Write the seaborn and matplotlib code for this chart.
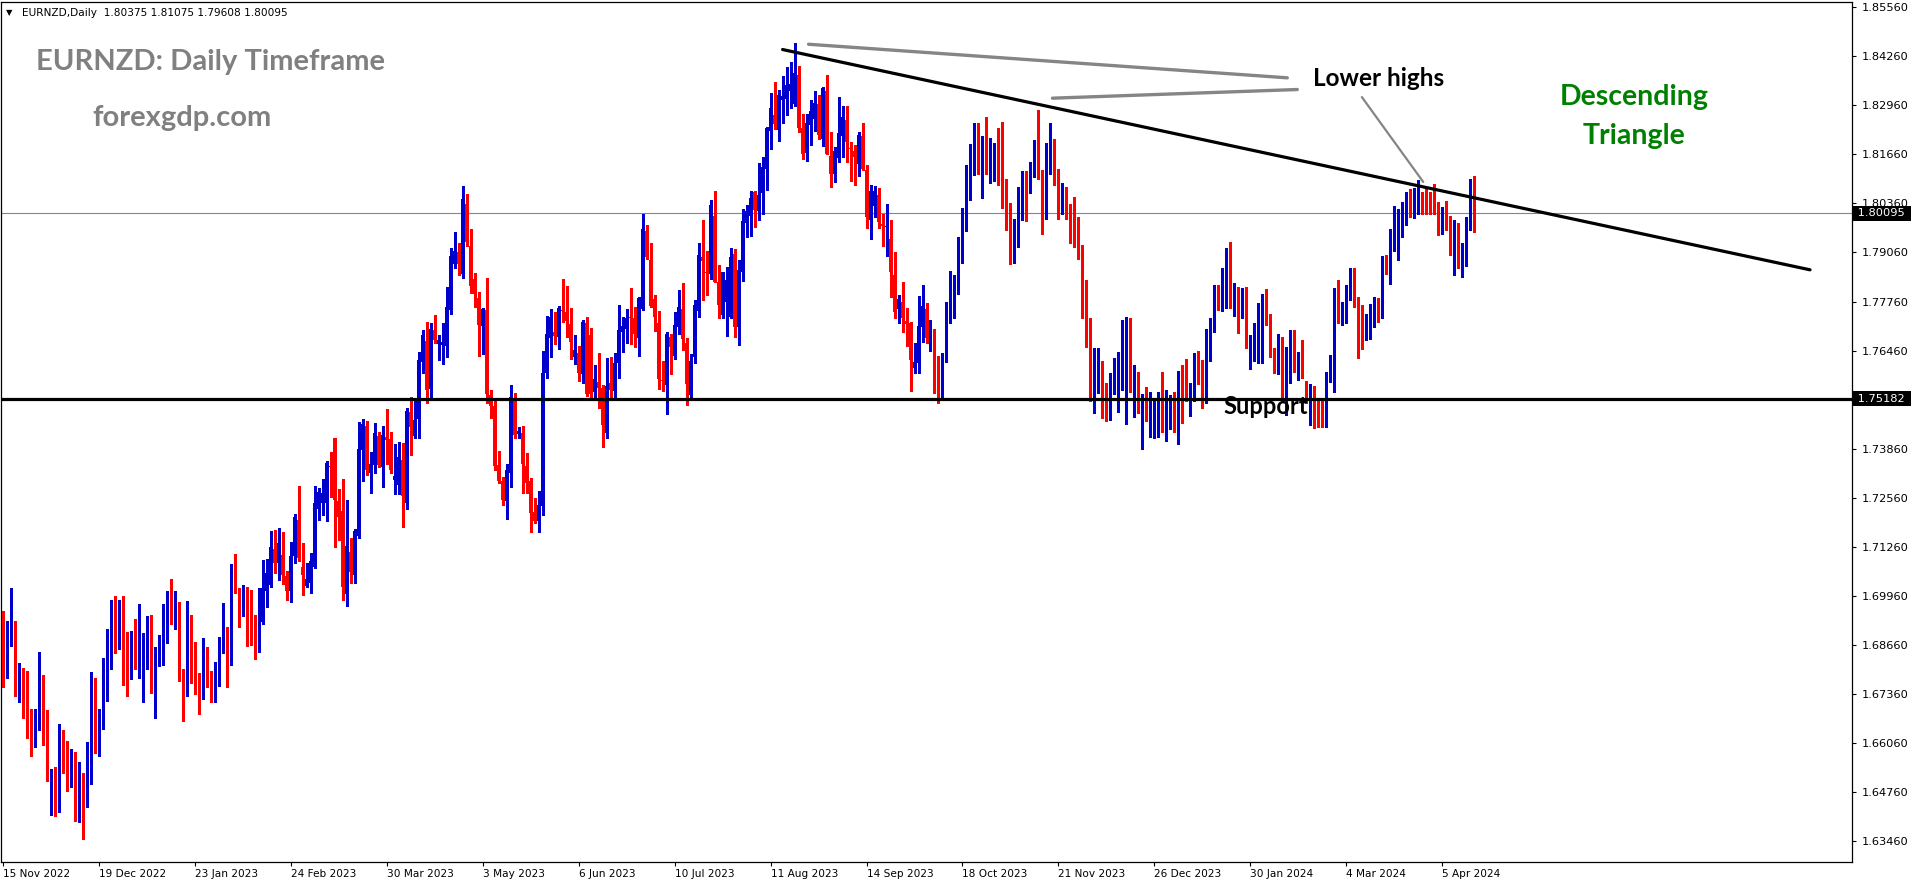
import numpy as np
import pandas as pd
import seaborn as sns
import matplotlib.pyplot as plt
from matplotlib.transforms import blended_transform_factory

# %%
# Daily EURNZD candles, 15 Nov 2022 - mid Apr 2024
opens = [
    1.6938, 1.6804, 1.6896, 1.6892, 1.6730, 1.6783, 1.6736, 1.6654, 1.6607, 1.6652,
    1.6764, 1.6654, 1.6501, 1.6524, 1.6481, 1.6590, 1.6561, 1.6527, 1.6537, 1.6427,
    1.6503, 1.6442, 1.6541, 1.6758, 1.6577, 1.6652, 1.6730, 1.6824, 1.6932, 1.6879,
    1.6945, 1.6819, 1.6783, 1.6839, 1.6870, 1.6828, 1.6835, 1.6879, 1.6784, 1.6832,
    1.6855, 1.6901, 1.6971, 1.6954, 1.6951, 1.6779, 1.6758, 1.6918, 1.6789, 1.6748,
    1.6731, 1.6836, 1.6786, 1.6733, 1.6766, 1.6861, 1.6892, 1.6843, 1.7080, 1.7009,
    1.6951, 1.6985, 1.6974, 1.6889, 1.6852, 1.6927, 1.7009, 1.7024, 1.7120, 1.7082,
    1.7104, 1.7049, 1.7009, 1.7101, 1.7197, 1.7071, 1.7022, 1.7029, 1.7071, 1.7225,
    1.7241, 1.7243, 1.7340, 1.7413, 1.7246, 1.7221, 1.7000, 1.7111, 1.7050, 1.7155,
    1.7382, 1.7447, 1.7322, 1.7343, 1.7420, 1.7338, 1.7418, 1.7411, 1.7303, 1.7290,
    1.7356, 1.7243, 1.7482, 1.7420, 1.7464, 1.7616, 1.7671, 1.7543, 1.7700, 1.7663,
    1.7661, 1.7659, 1.7753, 1.7875, 1.7906, 1.7850, 1.8034, 1.7923, 1.7835, 1.7786,
    1.7712, 1.7753, 1.7528, 1.7499, 1.7343, 1.7299, 1.7248, 1.7322, 1.7513, 1.7425,
    1.7428, 1.7340, 1.7299, 1.7219, 1.7193, 1.7235, 1.7587, 1.7680, 1.7696, 1.7681,
    1.7753, 1.7749, 1.7716, 1.7630, 1.7640, 1.7584, 1.7720, 1.7687, 1.7537, 1.7562,
    1.7548, 1.7428, 1.7559, 1.7540, 1.7612, 1.7696, 1.7703, 1.7732, 1.7731, 1.7680,
    1.7756, 1.7963, 1.7886, 1.7782, 1.7718, 1.7568, 1.7555, 1.7681, 1.7631, 1.7709,
    1.7755, 1.7667, 1.7528, 1.7628, 1.7751, 1.7893, 1.7853, 1.7849, 1.8002, 1.7827,
    1.7740, 1.7775, 1.7736, 1.7902, 1.7709, 1.7855, 1.7985, 1.8003, 1.8065, 1.8016,
    1.8064, 1.8127, 1.8228, 1.8270, 1.8230, 1.8310, 1.8312, 1.8333, 1.8299, 1.8376,
    1.8237, 1.8170, 1.8243, 1.8259, 1.8299, 1.8206, 1.8333, 1.8162, 1.8114, 1.8157,
    1.8214, 1.8257, 1.8182, 1.8175, 1.8140, 1.8214, 1.8124, 1.7992, 1.8029, 1.8058,
    1.7981, 1.7973, 1.7943, 1.7846, 1.7755, 1.7774, 1.7724, 1.7718, 1.7599, 1.7614,
    1.7709, 1.7755, 1.7664, 1.7674, 1.7539, 1.7533, 1.7634, 1.7720, 1.7736, 1.7812,
    1.7927, 1.7987, 1.8091, 1.8167, 1.8243, 1.8109, 1.8210, 1.8135, 1.8164, 1.8161,
    1.8145, 1.8071, 1.8003, 1.7895, 1.7961, 1.8018, 1.8108, 1.8091, 1.8133, 1.8198,
    1.8102, 1.7996, 1.8164, 1.8197, 1.8120, 1.8029, 1.8068, 1.8018, 1.7992, 1.7961,
    1.7910, 1.7808, 1.7677, 1.7553, 1.7537, 1.7575, 1.7526, 1.7493, 1.7570, 1.7575,
    1.7590, 1.7603, 1.7711, 1.7526, 1.7550, 1.7503, 1.7498, 1.7481, 1.7431, 1.7443,
    1.7506, 1.7464, 1.7449, 1.7486, 1.7438, 1.7552, 1.7550, 1.7511, 1.7524, 1.7621,
    1.7593, 1.7511, 1.7654, 1.7699, 1.7784, 1.7775, 1.7787, 1.7905, 1.7787, 1.7809,
    1.7736, 1.7762, 1.7637, 1.7667, 1.7643, 1.7692, 1.7751, 1.7734, 1.7632, 1.7619,
    1.7665, 1.7511, 1.7562, 1.7658, 1.7623, 1.7630, 1.7565, 1.7526, 1.7528, 1.7500,
    1.7469, 1.7443, 1.7568, 1.7566, 1.7755, 1.7720, 1.7720, 1.7791, 1.7821, 1.7758,
    1.7721, 1.7680, 1.7678, 1.7753, 1.7777, 1.7733, 1.7875, 1.7824, 1.7948, 1.7948,
    1.7952, 1.8009, 1.8043, 1.8031, 1.8014, 1.8062, 1.8069, 1.8038, 1.8033, 1.8031,
    1.7965, 1.8008, 1.7987, 1.7905, 1.7956, 1.7865, 1.7872, 1.7978, 1.80375,
]
highs = [
    1.6956, 1.6929, 1.7016, 1.6929, 1.6817, 1.6804, 1.6797, 1.6696, 1.6696, 1.6846,
    1.6786, 1.6693, 1.6537, 1.6541, 1.6656, 1.6640, 1.6611, 1.6590, 1.6583, 1.6554,
    1.6527, 1.6607, 1.6795, 1.6779, 1.6696, 1.6832, 1.6908, 1.6985, 1.6994, 1.6985,
    1.6995, 1.6901, 1.6903, 1.6934, 1.6974, 1.6898, 1.6941, 1.6945, 1.6861, 1.6892,
    1.6974, 1.7009, 1.7040, 1.7009, 1.6980, 1.6802, 1.6982, 1.6945, 1.6874, 1.6791,
    1.6883, 1.6859, 1.6797, 1.6819, 1.6886, 1.6978, 1.6914, 1.7080, 1.7107, 1.7016,
    1.7025, 1.7020, 1.7011, 1.6945, 1.7017, 1.7092, 1.7093, 1.7167, 1.7170, 1.7175,
    1.7165, 1.7062, 1.7139, 1.7212, 1.7288, 1.7137, 1.7084, 1.7108, 1.7287, 1.7281,
    1.7306, 1.7352, 1.7376, 1.7413, 1.7278, 1.7306, 1.7250, 1.7148, 1.7173, 1.7456,
    1.7465, 1.7459, 1.7376, 1.7453, 1.7431, 1.7447, 1.7491, 1.7429, 1.7398, 1.7404,
    1.7400, 1.7495, 1.7522, 1.7515, 1.7643, 1.7700, 1.7721, 1.7718, 1.7740, 1.7687,
    1.7718, 1.7815, 1.7919, 1.7961, 1.7930, 1.8082, 1.8061, 1.7968, 1.7852, 1.7802,
    1.7758, 1.7839, 1.7541, 1.7517, 1.7380, 1.7312, 1.7345, 1.7555, 1.7534, 1.7444,
    1.7447, 1.7374, 1.7307, 1.7256, 1.7274, 1.7645, 1.7738, 1.7755, 1.7747, 1.7765,
    1.7835, 1.7818, 1.7759, 1.7687, 1.7658, 1.7727, 1.7736, 1.7705, 1.7608, 1.7640,
    1.7555, 1.7625, 1.7628, 1.7640, 1.7766, 1.7736, 1.7756, 1.7812, 1.7762, 1.7789,
    1.8007, 1.7978, 1.7930, 1.7793, 1.7751, 1.7618, 1.7694, 1.7691, 1.7749, 1.7806,
    1.7824, 1.7678, 1.7637, 1.7780, 1.7930, 1.7993, 1.7910, 1.8046, 1.8068, 1.7873,
    1.7855, 1.7868, 1.7919, 1.7914, 1.7886, 1.8020, 1.8031, 1.8068, 1.8068, 1.8142,
    1.8160, 1.8239, 1.8329, 1.8358, 1.8338, 1.8373, 1.8398, 1.8411, 1.8462, 1.8400,
    1.8273, 1.8273, 1.8310, 1.8333, 1.8323, 1.8345, 1.8376, 1.8226, 1.8186, 1.8318,
    1.8294, 1.8294, 1.8199, 1.8190, 1.8226, 1.8250, 1.8137, 1.8084, 1.8083, 1.8076,
    1.8009, 1.8034, 1.7992, 1.7908, 1.7793, 1.7828, 1.7760, 1.7722, 1.7665, 1.7790,
    1.7821, 1.7771, 1.7727, 1.7703, 1.7631, 1.7640, 1.7775, 1.7858, 1.7846, 1.7948,
    1.8023, 1.8137, 1.8193, 1.8250, 1.8250, 1.8214, 1.8264, 1.8210, 1.8195, 1.8237,
    1.8252, 1.8102, 1.8038, 1.7994, 1.8080, 1.8122, 1.8122, 1.8146, 1.8205, 1.8283,
    1.8124, 1.8197, 1.8248, 1.8208, 1.8126, 1.8089, 1.8080, 1.8034, 1.8053, 1.8001,
    1.7926, 1.7833, 1.7731, 1.7654, 1.7652, 1.7619, 1.7561, 1.7586, 1.7627, 1.7643,
    1.7727, 1.7736, 1.7731, 1.7608, 1.7590, 1.7531, 1.7550, 1.7537, 1.7511, 1.7537,
    1.7590, 1.7541, 1.7528, 1.7537, 1.7593, 1.7608, 1.7624, 1.7559, 1.7640, 1.7646,
    1.7621, 1.7703, 1.7733, 1.7820, 1.7821, 1.7864, 1.7917, 1.7933, 1.7824, 1.7815,
    1.7813, 1.7815, 1.7687, 1.7718, 1.7773, 1.7795, 1.7808, 1.7743, 1.7652, 1.7690,
    1.7681, 1.7656, 1.7700, 1.7700, 1.7643, 1.7674, 1.7565, 1.7557, 1.7552, 1.7515,
    1.7511, 1.7590, 1.7634, 1.7812, 1.7834, 1.7775, 1.7821, 1.7866, 1.7866, 1.7789,
    1.7766, 1.7744, 1.7769, 1.7789, 1.7786, 1.7896, 1.7899, 1.7968, 1.8029, 1.8020,
    1.8040, 1.8065, 1.8073, 1.8078, 1.8098, 1.8067, 1.8078, 1.8067, 1.8087, 1.8040,
    1.8027, 1.8042, 1.8002, 1.7992, 1.7985, 1.7930, 1.8001, 1.8100, 1.81075,
]
lows = [
    1.6755, 1.6779, 1.6864, 1.6729, 1.6715, 1.6673, 1.6620, 1.6572, 1.6596, 1.6639,
    1.6599, 1.6506, 1.6415, 1.6413, 1.6422, 1.6527, 1.6477, 1.6490, 1.6400, 1.6395,
    1.6351, 1.6437, 1.6496, 1.6579, 1.6570, 1.6642, 1.6718, 1.6802, 1.6843, 1.6854,
    1.6760, 1.6729, 1.6775, 1.6802, 1.6779, 1.6715, 1.6802, 1.6739, 1.6673, 1.6811,
    1.6812, 1.6872, 1.6920, 1.6907, 1.6770, 1.6665, 1.6729, 1.6764, 1.6735, 1.6682,
    1.6722, 1.6755, 1.6714, 1.6715, 1.6758, 1.6843, 1.6755, 1.6812, 1.7004, 1.6914,
    1.6943, 1.6864, 1.6865, 1.6828, 1.6848, 1.6921, 1.6967, 1.7020, 1.7057, 1.7039,
    1.7026, 1.6985, 1.6980, 1.7082, 1.7088, 1.6998, 1.7020, 1.7002, 1.7069, 1.7197,
    1.7210, 1.7195, 1.7259, 1.7125, 1.7144, 1.6985, 1.6970, 1.7030, 1.7030, 1.7148,
    1.7299, 1.7316, 1.7269, 1.7321, 1.7337, 1.7283, 1.7345, 1.7321, 1.7265, 1.7265,
    1.7177, 1.7225, 1.7369, 1.7413, 1.7415, 1.7586, 1.7506, 1.7519, 1.7665, 1.7621,
    1.7610, 1.7628, 1.7743, 1.7865, 1.7846, 1.7839, 1.7924, 1.7799, 1.7762, 1.7632,
    1.7637, 1.7506, 1.7468, 1.7329, 1.7294, 1.7237, 1.7199, 1.7283, 1.7413, 1.7413,
    1.7268, 1.7268, 1.7166, 1.7188, 1.7166, 1.7210, 1.7574, 1.7630, 1.7663, 1.7650,
    1.7722, 1.7683, 1.7623, 1.7610, 1.7566, 1.7561, 1.7525, 1.7524, 1.7519, 1.7495,
    1.7391, 1.7413, 1.7519, 1.7524, 1.7572, 1.7643, 1.7665, 1.7663, 1.7656, 1.7632,
    1.7753, 1.7888, 1.7762, 1.7698, 1.7544, 1.7540, 1.7477, 1.7585, 1.7623, 1.7689,
    1.7647, 1.7502, 1.7519, 1.7612, 1.7736, 1.7780, 1.7793, 1.7835, 1.7827, 1.7731,
    1.7731, 1.7684, 1.7731, 1.7681, 1.7661, 1.7830, 1.7948, 1.7950, 1.7974, 1.7992,
    1.8008, 1.8071, 1.8180, 1.8233, 1.8201, 1.8250, 1.8270, 1.8290, 1.8294, 1.8226,
    1.8153, 1.8149, 1.8190, 1.8228, 1.8208, 1.8188, 1.8167, 1.8080, 1.8093, 1.8145,
    1.8160, 1.8146, 1.8096, 1.8084, 1.8109, 1.8124, 1.7971, 1.7941, 1.7999, 1.7971,
    1.7923, 1.7897, 1.7789, 1.7733, 1.7720, 1.7696, 1.7658, 1.7539, 1.7587, 1.7587,
    1.7669, 1.7667, 1.7646, 1.7533, 1.7506, 1.7519, 1.7615, 1.7718, 1.7731, 1.7796,
    1.7879, 1.7964, 1.8045, 1.8111, 1.8114, 1.8051, 1.8113, 1.8089, 1.8096, 1.8084,
    1.8023, 1.7965, 1.7875, 1.7879, 1.7921, 1.7992, 1.7990, 1.8064, 1.8107, 1.8102,
    1.7954, 1.7994, 1.8115, 1.8084, 1.7994, 1.8007, 1.7996, 1.7930, 1.7921, 1.7888,
    1.7733, 1.7656, 1.7511, 1.7481, 1.7533, 1.7466, 1.7460, 1.7462, 1.7530, 1.7484,
    1.7541, 1.7450, 1.7537, 1.7471, 1.7480, 1.7384, 1.7458, 1.7418, 1.7415, 1.7418,
    1.7431, 1.7406, 1.7437, 1.7431, 1.7398, 1.7453, 1.7511, 1.7473, 1.7511, 1.7556,
    1.7493, 1.7506, 1.7619, 1.7696, 1.7753, 1.7752, 1.7758, 1.7758, 1.7738, 1.7692,
    1.7733, 1.7652, 1.7596, 1.7619, 1.7614, 1.7614, 1.7715, 1.7630, 1.7587, 1.7584,
    1.7511, 1.7475, 1.7559, 1.7590, 1.7568, 1.7573, 1.7506, 1.7449, 1.7440, 1.7444,
    1.7442, 1.7443, 1.7563, 1.7537, 1.7720, 1.7714, 1.7718, 1.7781, 1.7762, 1.7625,
    1.7649, 1.7674, 1.7677, 1.7709, 1.7721, 1.7731, 1.7850, 1.7822, 1.7910, 1.7886,
    1.7948, 1.7978, 1.8000, 1.7998, 1.8009, 1.8008, 1.8007, 1.8008, 1.8009, 1.7952,
    1.7955, 1.7965, 1.7899, 1.7846, 1.7864, 1.7842, 1.7871, 1.7965, 1.79608,
]
closes = [
    1.6806, 1.6903, 1.6916, 1.6771, 1.6783, 1.6742, 1.6652, 1.6616, 1.6614, 1.6770,
    1.6654, 1.6533, 1.6521, 1.6427, 1.6611, 1.6567, 1.6534, 1.6548, 1.6421, 1.6510,
    1.6446, 1.6541, 1.6760, 1.6585, 1.6667, 1.6736, 1.6848, 1.6961, 1.6885, 1.6956,
    1.6824, 1.6795, 1.6842, 1.6828, 1.6877, 1.6846, 1.6895, 1.6768, 1.6846, 1.6852,
    1.6898, 1.6970, 1.6965, 1.6956, 1.6779, 1.6753, 1.6938, 1.6771, 1.6751, 1.6736,
    1.6851, 1.6779, 1.6736, 1.6779, 1.6866, 1.6899, 1.6845, 1.7062, 1.7009, 1.6954,
    1.6994, 1.6971, 1.6918, 1.6866, 1.6945, 1.7017, 1.7057, 1.7126, 1.7084, 1.7137,
    1.7051, 1.7009, 1.7101, 1.7205, 1.7097, 1.7051, 1.7040, 1.7088, 1.7243, 1.7272,
    1.7269, 1.7347, 1.7338, 1.7250, 1.7206, 1.7020, 1.7128, 1.7060, 1.7168, 1.7385,
    1.7450, 1.7329, 1.7345, 1.7427, 1.7343, 1.7422, 1.7409, 1.7328, 1.7314, 1.7363,
    1.7261, 1.7486, 1.7442, 1.7462, 1.7621, 1.7687, 1.7541, 1.7703, 1.7674, 1.7674,
    1.7669, 1.7762, 1.7896, 1.7910, 1.7875, 1.8047, 1.7934, 1.7817, 1.7797, 1.7715,
    1.7756, 1.7531, 1.7500, 1.7341, 1.7299, 1.7250, 1.7329, 1.7522, 1.7422, 1.7434,
    1.7345, 1.7296, 1.7216, 1.7193, 1.7237, 1.7587, 1.7690, 1.7736, 1.7685, 1.7760,
    1.7751, 1.7724, 1.7669, 1.7647, 1.7587, 1.7722, 1.7531, 1.7531, 1.7570, 1.7548,
    1.7449, 1.7552, 1.7541, 1.7612, 1.7700, 1.7711, 1.7731, 1.7731, 1.7691, 1.7786,
    1.7968, 1.7893, 1.7765, 1.7736, 1.7571, 1.7566, 1.7691, 1.7656, 1.7714, 1.7762,
    1.7676, 1.7557, 1.7618, 1.7767, 1.7899, 1.7884, 1.7852, 1.8031, 1.7828, 1.7767,
    1.7853, 1.7833, 1.7893, 1.7709, 1.7859, 1.7989, 1.8016, 1.8051, 1.8018, 1.8058,
    1.8133, 1.8236, 1.8289, 1.8246, 1.8323, 1.8320, 1.8349, 1.8352, 1.8382, 1.8236,
    1.8168, 1.8250, 1.8281, 1.8303, 1.8217, 1.8343, 1.8168, 1.8114, 1.8175, 1.8223,
    1.8265, 1.8199, 1.8180, 1.8160, 1.8217, 1.8127, 1.7999, 1.8069, 1.8069, 1.7986,
    1.7977, 1.7975, 1.7855, 1.7749, 1.7782, 1.7731, 1.7716, 1.7621, 1.7615, 1.7711,
    1.7764, 1.7678, 1.7666, 1.7540, 1.7538, 1.7637, 1.7764, 1.7852, 1.7837, 1.7934,
    1.7994, 1.8093, 1.8175, 1.8248, 1.8115, 1.8213, 1.8144, 1.8186, 1.8166, 1.8151,
    1.8077, 1.8005, 1.7877, 1.7968, 1.8027, 1.8114, 1.8098, 1.8133, 1.8204, 1.8104,
    1.8005, 1.8175, 1.8206, 1.8120, 1.8032, 1.8080, 1.8018, 1.7948, 1.7958, 1.7911,
    1.7817, 1.7687, 1.7524, 1.7577, 1.7615, 1.7511, 1.7491, 1.7574, 1.7578, 1.7601,
    1.7654, 1.7709, 1.7541, 1.7584, 1.7503, 1.7513, 1.7490, 1.7488, 1.7453, 1.7511,
    1.7466, 1.7466, 1.7504, 1.7485, 1.7552, 1.7522, 1.7524, 1.7537, 1.7618, 1.7602,
    1.7543, 1.7656, 1.7716, 1.7790, 1.7780, 1.7791, 1.7908, 1.7782, 1.7808, 1.7746,
    1.7812, 1.7663, 1.7674, 1.7684, 1.7694, 1.7784, 1.7738, 1.7632, 1.7623, 1.7678,
    1.7531, 1.7572, 1.7649, 1.7627, 1.7639, 1.7590, 1.7532, 1.7531, 1.7504, 1.7468,
    1.7455, 1.7578, 1.7574, 1.7773, 1.7744, 1.7744, 1.7809, 1.7835, 1.7765, 1.7705,
    1.7700, 1.7705, 1.7764, 1.7780, 1.7749, 1.7892, 1.7862, 1.7952, 1.7961, 1.7965,
    1.8029, 1.8051, 1.8038, 1.8032, 1.8060, 1.8027, 1.8040, 1.8029, 1.8030, 1.7978,
    1.8020, 1.8001, 1.7912, 1.7978, 1.7881, 1.7921, 1.7996, 1.8051, 1.80095,
]

date_labels = ['15 Nov 2022', '19 Dec 2022', '23 Jan 2023', '24 Feb 2023',
               '30 Mar 2023', '3 May 2023', '6 Jun 2023', '10 Jul 2023',
               '11 Aug 2023', '14 Sep 2023', '18 Oct 2023', '21 Nov 2023',
               '26 Dec 2023', '30 Jan 2024', '4 Mar 2024', '5 Apr 2024']
bars_per_label = 24
price_ticks = [1.63460, 1.64760, 1.66060, 1.67360, 1.68660, 1.69960, 1.71260,
               1.72560, 1.73860, 1.75160, 1.76460, 1.77760, 1.79060, 1.80360,
               1.81660, 1.82960, 1.84260, 1.85560]

last_price = 1.80095
support_level = 1.75182

# hand-drawn lines (bar index, price)
trend_x, trend_y = [195, 452], [1.8444, 1.7860]
high_a_x, high_a_y = [201.5, 321.25], [1.8458, 1.8369]
high_b_x, high_b_y = [262.5, 323.75], [1.8315, 1.8338]
pointer_x, pointer_y = [339.9, 355.25], [1.8318, 1.8093]

# %%
df = pd.DataFrame({'open': opens, 'high': highs, 'low': lows, 'close': closes})
df['bar'] = np.arange(len(df))
df['color'] = np.where(df['close'] >= df['open'], '#0000cd', '#ff0000')
body_low = df[['open', 'close']].min(axis=1)
body_h = (df['close'] - df['open']).abs().clip(lower=0.0003)

sns.set_theme(style='white')
plt.rcParams['font.family'] = ['DejaVu Sans']

W, H = 1916, 884
fig = plt.figure(figsize=(W / 100, H / 100), dpi=100)
fig.set(facecolor='white')
ax = fig.add_axes([1 / W, 22 / H, 1851 / W, 860 / H])
ax.set_facecolor('white')

ax.axhline(last_price, color='#778899', lw=0.8, zorder=2)
ax.vlines(df['bar'], df['low'], df['high'], colors=df['color'], lw=0.9,
          zorder=3, antialiased=False)
ax.bar(df['bar'], body_h, bottom=body_low, width=0.68, color=df['color'],
       linewidth=0, zorder=4, antialiased=False)
ax.axhline(support_level, color='black', lw=2.3, zorder=5)

sns.lineplot(x=trend_x, y=trend_y, ax=ax, color='black', linewidth=2.3, zorder=6)
sns.lineplot(x=high_a_x, y=high_a_y, ax=ax, color='#858585', linewidth=2.4, zorder=6)
sns.lineplot(x=high_b_x, y=high_b_y, ax=ax, color='#858585', linewidth=2.4, zorder=6)
sns.lineplot(x=pointer_x, y=pointer_y, ax=ax, color='#858585', linewidth=1.6, zorder=6)

ax.set_xlim(-0.5, 462.5)
ax.set_ylim(1.62901, 1.85700)

# axes styling, MT4 look
for sp in ax.spines.values():
    sp.set_color('black')
    sp.set_linewidth(0.9)
ax.yaxis.tick_right()
ax.set_yticks(price_ticks)
# 1.75160 sits under the support price tag, so its label is left blank
ax.set_yticklabels(['' if abs(p - support_level) < 0.001 else f'{p:.5f}'
                    for p in price_ticks])
ax.set_xticks(np.arange(len(date_labels)) * bars_per_label)
ax.set_xticklabels(date_labels, ha='left')
ax.tick_params(axis='y', right=True, left=False, direction='out', length=3,
               width=0.8, pad=4, labelsize=8.2, colors='black')
ax.tick_params(axis='x', bottom=True, direction='out', length=3, width=0.8,
               pad=2, labelsize=7.6, colors='black')
ax.grid(False)
ax.set(xlabel='', ylabel='')

# price tags on the right scale
tr = blended_transform_factory(ax.transAxes, ax.transData)
for p in [last_price, support_level]:
    ax.text(1.0 + 2 / 1851, p, f' {p:.5f} ', transform=tr, color='white',
            fontsize=8.2, va='center', ha='left', zorder=10, clip_on=False,
            bbox=dict(boxstyle='square,pad=0.2', fc='black', ec='none'))

# header and annotations
fig.text(6 / W, 1 - 13 / H, '\u25bc', fontsize=6, va='center', color='black')
fig.text(22 / W, 1 - 13 / H, 'EURNZD,Daily  1.80375 1.81075 1.79608 1.80095',
         fontsize=7.6, va='center', color='black')
fig.text(36 / W, 1 - 62 / H, 'EURNZD: Daily Timeframe', fontsize=21,
         fontweight='bold', color='#808080', family='Lato', va='center')
fig.text(92 / W, 1 - 118 / H, 'forexgdp.com', fontsize=21,
         fontweight='bold', color='#808080', family='Lato', va='center')
fig.text(1313 / W, 1 - 78 / H, 'Lower highs', fontsize=17.5,
         fontweight='bold', color='black', family='Lato', va='center')
fig.text(1634 / W, 1 - 97 / H, 'Descending', fontsize=20.5,
         fontweight='bold', color='#008000', family='Lato', va='center', ha='center')
fig.text(1634 / W, 1 - 136 / H, 'Triangle', fontsize=20.5,
         fontweight='bold', color='#008000', family='Lato', va='center', ha='center')
fig.text(1223 / W, 1 - 407 / H, 'Support', fontsize=17,
         fontweight='bold', color='black', family='Lato', va='center', zorder=12)

fig.savefig('out.png', dpi=100, facecolor='white')
